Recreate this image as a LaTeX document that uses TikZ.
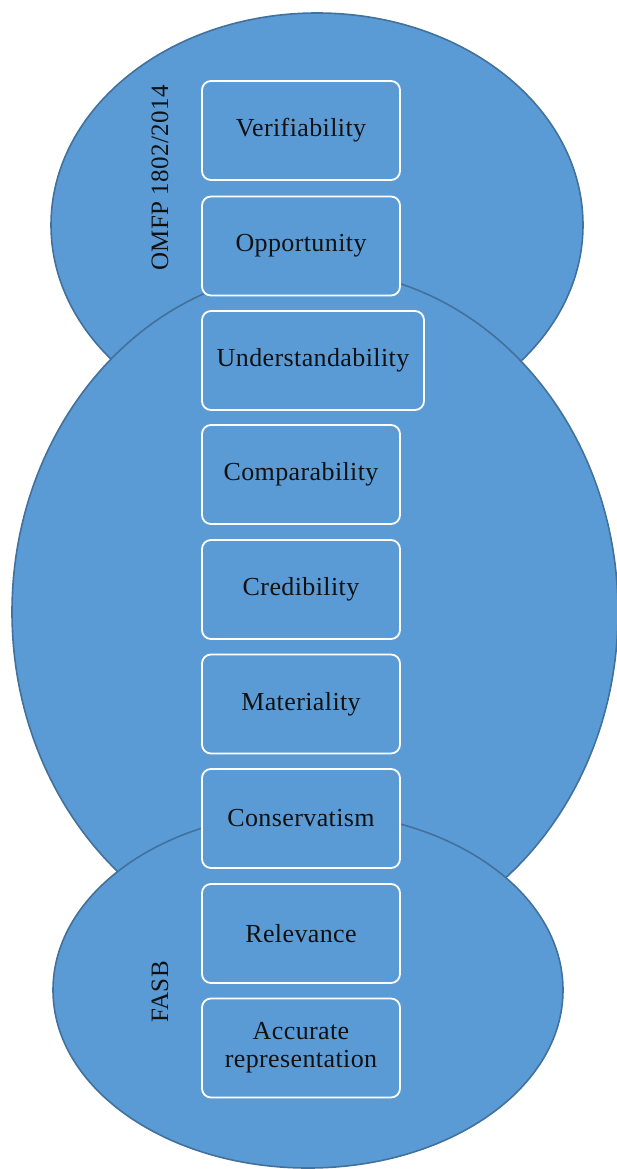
\documentclass[tikz,border=0pt]{standalone}
\usepackage{fontspec}
\setmainfont{Liberation Serif}[LetterSpace=1.5]
\definecolor{ellfill}{HTML}{5B9BD5}
\definecolor{elldraw}{HTML}{41719C}
\definecolor{txt}{HTML}{111111}
\begin{document}
\begin{tikzpicture}[x=1pt,y=-1pt,
  ell/.style={fill=ellfill,draw=elldraw,line width=1.6pt},
  qbox/.style={draw=white,line width=1.8pt,rounded corners=9pt,fill=ellfill,
    minimum width=198pt,minimum height=99pt,inner sep=0pt,align=center,
    text=txt,font=\fontsize{26}{28}\selectfont},
  grp/.style={rotate=90,text=txt,font=\fontsize{25}{28}\selectfont,inner sep=0pt}]
\useasboundingbox (0,0) rectangle (617,1169);
% ellipses
\draw[ell] (317,225) ellipse [x radius=266,y radius=212];
\draw[ell] (315,612) ellipse [x radius=303,y radius=342];
\draw[ell] (308,990) ellipse [x radius=255,y radius=178];
% group labels
\node[grp] (omfp) at (160,178) {OMFP 1802/2014};
\node[grp] (fasb) at (160,992) {FASB};
% boxes
\node[qbox] (b1) at (301,130.5) {Verifiability};
\node[qbox] (b2) at (301,246) {Opportunity};
\node[qbox,minimum width=222pt] (b3) at (313,360.5) {Understandability};
\node[qbox] (b4) at (301,474.5) {Comparability};
\node[qbox] (b5) at (301,589.5) {Credibility};
\node[qbox] (b6) at (301,704) {Materiality};
\node[qbox] (b7) at (301,818.5) {Conservatism};
\node[qbox] (b8) at (301,933.5) {Relevance};
\node[qbox] (b9) at (301,1048) {Accurate\\representation};
\end{tikzpicture}
\end{document}
